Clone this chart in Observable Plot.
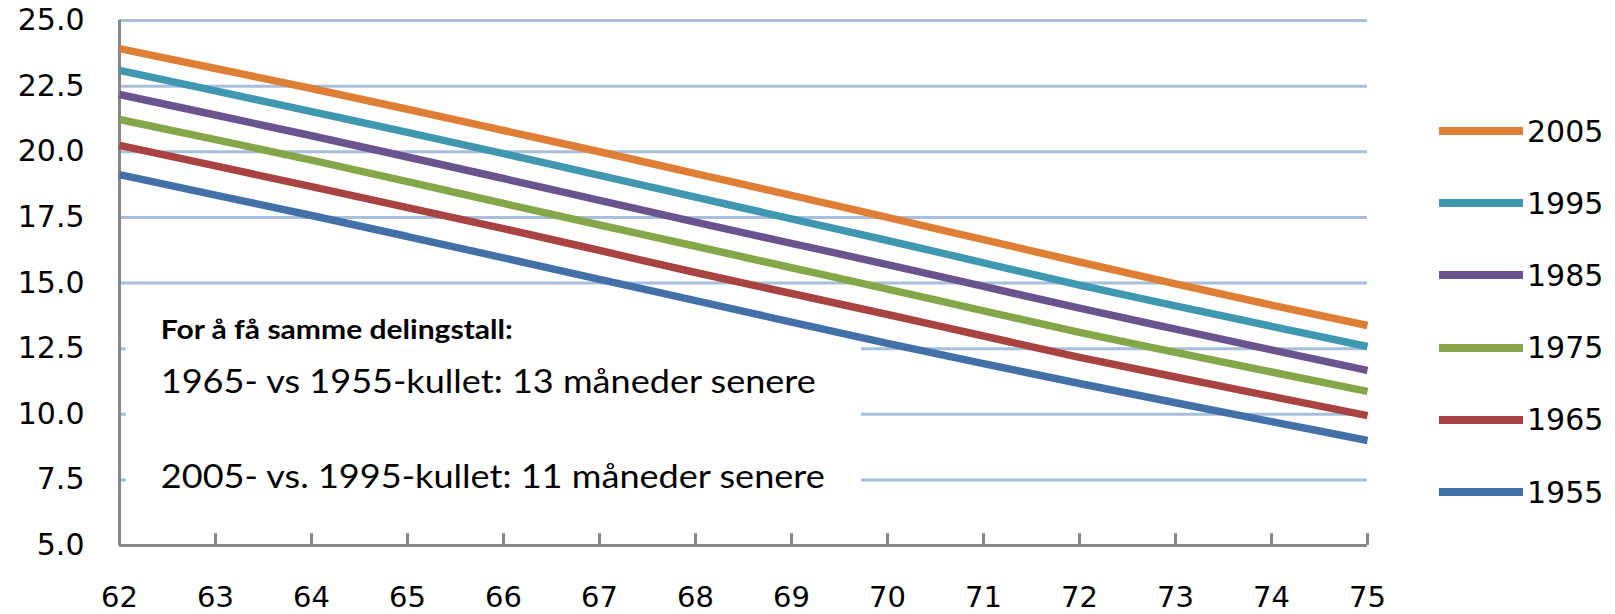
<!DOCTYPE html>
<html>
<head>
<meta charset="utf-8">
<script src="https://cdn.jsdelivr.net/npm/d3@7"></script>
<script src="https://cdn.jsdelivr.net/npm/@observablehq/plot@0.6"></script>
<style>
  html, body { margin: 0; padding: 0; background: #ffffff; }
  #wrap { position: relative; width: 1615px; height: 614px; overflow: hidden; }
  #legend { position: absolute; left: 1439px; top: 95px; font-family: "DejaVu Sans", sans-serif; font-size: 30px; color: #000; }
  .item { display: flex; align-items: center; height: 72.2px; }
  .sw { width: 84px; height: 8px; margin-right: 4px; }
</style>
</head>
<body>
<div id="wrap"><div id="legend"></div></div>
<script>
// Alder (x) og delingstall (y) per kull
const ages = [62, 63, 64, 65, 66, 67, 68, 69, 70, 71, 72, 73, 74, 75];
const cohorts = ["2005", "1995", "1985", "1975", "1965", "1955"];
const colors = ["#DE7F35", "#4097B0", "#6B548E", "#86A64A", "#A84341", "#4470A8"];
const v2005 = [23.93, 23.17, 22.41, 21.62, 20.81, 20.00, 19.17, 18.34, 17.50, 16.65, 15.80, 14.97, 14.16, 13.38];
const v1995 = [23.10, 22.32, 21.53, 20.74, 19.93, 19.10, 18.27, 17.44, 16.62, 15.77, 14.92, 14.13, 13.35, 12.58];
const v1985 = [22.18, 21.40, 20.61, 19.80, 18.98, 18.15, 17.32, 16.51, 15.70, 14.87, 14.04, 13.24, 12.45, 11.67];
const v1975 = [21.23, 20.46, 19.68, 18.86, 18.03, 17.21, 16.40, 15.58, 14.77, 13.94, 13.12, 12.36, 11.61, 10.87];
const v1965 = [20.24, 19.46, 18.67, 17.87, 17.07, 16.24, 15.40, 14.60, 13.80, 12.98, 12.17, 11.42, 10.68, 9.95];
const v1955 = [19.13, 18.35, 17.57, 16.77, 15.96, 15.14, 14.33, 13.51, 12.70, 11.93, 11.17, 10.44, 9.72, 9.00];
const yTicks = [5, 7.5, 10, 12.5, 15, 17.5, 20, 22.5, 25];
const noteTitle = "For å få samme delingstall:";
const noteLine1 = "1965- vs 1955-kullet: 13 måneder senere";
const noteLine2 = "2005- vs. 1995-kullet: 11 måneder senere";

const seriesValues = [v2005, v1995, v1985, v1975, v1965, v1955];
const data = [];
cohorts.forEach((c, i) => ages.forEach((a, j) => data.push({cohort: c, age: a, value: seriesValues[i][j]})));

const gridColor = "#A7BFDD";
const axisColor = "#868686";

const chart = Plot.plot({
  width: 1615,
  height: 614,
  marginLeft: 119,
  marginRight: 248,
  marginTop: 20,
  marginBottom: 69,
  style: {fontFamily: "DejaVu Sans, sans-serif", fontSize: "30px", color: "#000", background: "#fff"},
  x: {domain: [62, 75]},
  y: {domain: [5, 25]},
  color: {domain: cohorts, range: colors},
  marks: [
    Plot.gridY(yTicks, {stroke: gridColor, strokeOpacity: 1, strokeWidth: 3}),
    Plot.rect([{}], {x1: 62.07, x2: 69.73, y1: 6.7, y2: 12.65, fill: "#fff"}),
    Plot.text([noteTitle], {x: 62.43, y: 13.2, text: d => d, textAnchor: "start", fontFamily: "Lato, sans-serif", fontWeight: "bold", fontSize: 26, fill: "#000"}),
    Plot.text([noteLine1], {x: 62.43, y: 11.2, text: d => d, textAnchor: "start", fontFamily: "Lato, sans-serif", fontSize: 32, fill: "#000"}),
    Plot.text([noteLine2], {x: 62.43, y: 7.6, text: d => d, textAnchor: "start", fontFamily: "Lato, sans-serif", fontSize: 32, fill: "#000"}),
    Plot.ruleX(ages, {x: d => d, y1: 5, y2: 5.45, stroke: axisColor, strokeWidth: 3}),
    Plot.ruleX([62], {stroke: axisColor, strokeWidth: 3}),
    Plot.ruleY([5], {stroke: axisColor, strokeWidth: 3}),
    Plot.axisY(yTicks, {tickSize: 0, tickPadding: 35, tickFormat: d3.format(".1f"), label: null, fill: "#000"}),
    Plot.axisX(ages, {tickSize: 0, tickPadding: 41, fontSize: 29, tickFormat: d => String(d), label: null, fill: "#000"}),
    Plot.line(data, {x: "age", y: "value", z: "cohort", stroke: "cohort", strokeWidth: 7.5, curve: "monotone-x", strokeLinecap: "butt", strokeLinejoin: "round"})
  ]
});

document.getElementById("wrap").prepend(chart);

// fit the annotation texts to the widths seen in the reference
const fits = {};
fits[noteTitle] = 352; fits[noteLine1] = 655; fits[noteLine2] = 664;
chart.querySelectorAll("text").forEach(t => {
  const s = t.textContent;
  if (fits[s]) { t.setAttribute("textLength", fits[s]); t.setAttribute("lengthAdjust", "spacingAndGlyphs"); }
});

const legend = document.getElementById("legend");
cohorts.forEach((c, i) => {
  const item = document.createElement("div");
  item.className = "item";
  const sw = document.createElement("div");
  sw.className = "sw";
  sw.style.background = colors[i];
  const lab = document.createElement("span");
  lab.textContent = c;
  item.appendChild(sw); item.appendChild(lab);
  legend.appendChild(item);
});
</script>
</body>
</html>
